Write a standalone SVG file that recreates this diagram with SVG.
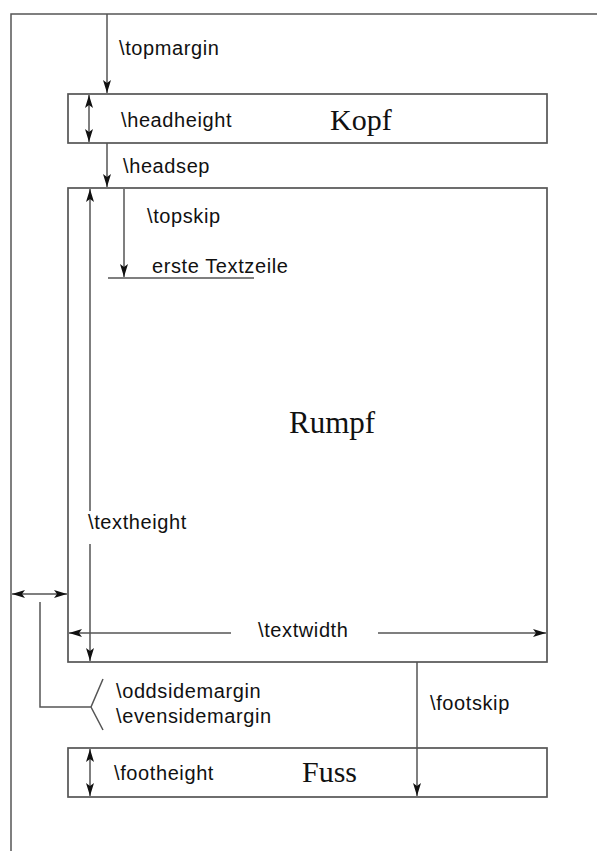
<svg xmlns="http://www.w3.org/2000/svg" width="597" height="851" viewBox="0 0 597 851">
<defs>
<marker id="ah" markerUnits="userSpaceOnUse" markerWidth="14" markerHeight="10" refX="13" refY="4.5" orient="auto-start-reverse" viewBox="0 0 14 9">
<path d="M0,0.5 L13,4.5 L0,8.5 L3,4.5 z" fill="#111"/>
</marker>
<style>
.ln{fill:none;stroke:#555;stroke-width:1.5}
.bx{fill:#fff;stroke:#555;stroke-width:1.7}
.s{font-family:"Liberation Sans",Arial,sans-serif;font-size:20px;letter-spacing:0.6px;fill:#111}
.t{font-family:"Liberation Serif","Times New Roman",serif;font-size:30px;fill:#111}
.a{marker-end:url(#ah)}
.d{marker-start:url(#ah);marker-end:url(#ah)}
</style>
</defs>
<rect width="597" height="851" fill="#fff"/>
<path class="ln" d="M11,851 V14 H597"/>
<g id="kopf"><rect class="bx" x="68" y="94" width="479" height="49"/><text class="t" x="330" y="130">Kopf</text></g>
<g id="rumpf"><rect class="bx" x="68" y="188" width="479" height="474"/><text class="t" x="289" y="433" style="font-size:31px">Rumpf</text></g>
<g id="fuss"><rect class="bx" x="68" y="748" width="479" height="49"/><text class="t" x="302" y="782">Fuss</text></g>
<g id="connectors">
<line class="ln a" x1="107" y1="14" x2="107" y2="93"/>
<line class="ln d" x1="89" y1="95" x2="89" y2="142"/>
<line class="ln a" x1="107" y1="143" x2="107" y2="187"/>
<line class="ln a" x1="124" y1="189" x2="124" y2="277"/>
<line class="ln" x1="108" y1="278" x2="254" y2="278"/>
<line class="ln" x1="90" y1="189" x2="90" y2="511" marker-start="url(#ah)"/>
<line class="ln" x1="90" y1="544" x2="90" y2="661" marker-end="url(#ah)"/>
<line class="ln d" x1="12" y1="594" x2="67" y2="594"/>
<path class="ln" d="M40,602 V707 H91 M103,679 L91,707 L103,730"/>
<line class="ln" x1="231" y1="633" x2="69" y2="633" marker-end="url(#ah)"/>
<line class="ln a" x1="378" y1="633" x2="546" y2="633"/>
<line class="ln a" x1="417" y1="662" x2="417" y2="796"/>
<line class="ln d" x1="90" y1="749" x2="90" y2="796"/>
</g>
<g id="labels">
<text class="s" x="119" y="55">\topmargin</text>
<text class="s" x="121" y="127">\headheight</text>
<text class="s" x="123" y="173">\headsep</text>
<text class="s" x="147" y="223">\topskip</text>
<text class="s" x="152" y="273">erste Textzeile</text>
<text class="s" x="88" y="529">\textheight</text>
<text class="s" x="258" y="637">\textwidth</text>
<text class="s" x="116" y="698">\oddsidemargin</text>
<text class="s" x="116" y="723">\evensidemargin</text>
<text class="s" x="430" y="710">\footskip</text>
<text class="s" x="114" y="780">\footheight</text>
</g>
</svg>
